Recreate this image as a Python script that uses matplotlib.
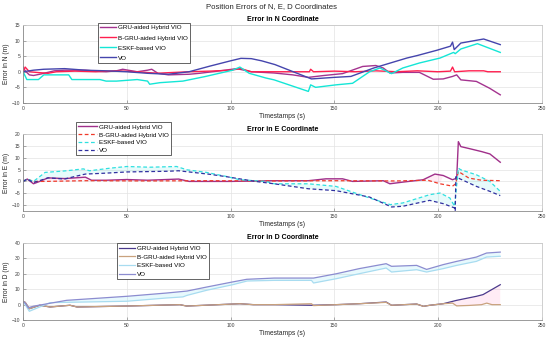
import numpy as np
import matplotlib
matplotlib.use("Agg")
import matplotlib.pyplot as plt

plt.rcParams['font.family'] = ['Liberation Sans', 'DejaVu Sans']

labels = ["GRU-aided Hybrid VIO", "B-GRU-aided Hybrid VIO", "ESKF-based VIO", "VO"]

# ===== N coordinate =====
t_n_gru = [0, 1, 3, 5, 8, 10, 15, 20, 30, 35, 40, 45, 48, 55, 60, 62, 65, 70, 80, 85,
           95, 103, 110, 121, 130, 137.5, 145, 154, 163.7, 170, 173.6, 176.8, 183, 191,
           197.7, 202.5, 207, 209, 211, 218.5, 224.9, 230]
n_gru = [1.5, 0.3, -1.0, -1.2, -0.8, -0.5, 0.3, 0.5, 0.5, 0.2, 0, 0.3, 0.8, 0, 0.5, 0.8,
         -0.5, -1.0, -0.8, -0.5, 0.3, 1.0, 0, -0.4, -1.0, -1.8, -1.2, -0.6, 1.7, 2.0, 1.2,
         -0.4, -0.2, -0.2, -2.4, -2.3, -1.5, -1.0, -2.6, -3.1, -5.3, -7.4]
t_n_bgru = [0, 1, 3, 8, 12, 16, 25, 35, 45, 55, 65, 70, 80, 90, 100, 105, 110, 121, 130,
            138, 138.6, 140, 150, 160, 170, 180, 190, 200, 206, 207, 208, 215, 222, 224, 230]
n_bgru = [0, 1.5, 0, -0.3, -0.5, 0, 0.2, 0, 0.3, 0, -0.5, -0.3, 0, 0.2, 0.5, 1.0, 0, 0, 0,
          0, 0.8, 0, 0.2, 0, 0.3, 0, 0.3, 0, 0.2, 1.5, 0, 0.3, 0.3, 0, 0]
t_n_eskf = [0, 1.8, 7.4, 10, 22, 23.5, 37, 40, 45, 55, 60, 61, 66, 77, 88, 101, 104.5, 109,
            117, 121, 137.5, 138.6, 141, 150.8, 158.8, 167, 172, 177.6, 183, 191, 201,
            207.5, 208.3, 211, 219, 230]
n_eskf = [0, -2.5, -2.5, -1.0, -1.0, -2.5, -2.5, -3.0, -3.0, -2.5, -3.0, -4.0, -3.5, -3.0,
          -1.5, 0.5, 1.5, -0.5, -2.0, -2.6, -6.3, -4.2, -5.0, -4.2, -3.7, 0, 1.2, -0.6, 1.2,
          2.8, 4.4, 6.2, 5.8, 7.3, 9.0, 6.2]
t_n_vo = [0, 5, 10, 20, 30, 40, 50, 60, 70, 80, 90, 100, 105, 110, 115, 121.4, 139, 150,
          158, 169, 177, 185, 190, 199.5, 206, 207, 207.8, 211, 222, 230]
n_vo = [0, 0.5, 0.8, 1.0, 0.5, 0.3, 0, -0.5, -0.8, 0, 1.8, 3.5, 4.3, 4.2, 3.5, 2.3, -2.3,
        -1.8, -1.5, 1.2, 2.8, 4.4, 5.2, 6.9, 8.2, 9.5, 7.1, 9.2, 10.5, 8.7]

# ===== E coordinate =====
t_e_gru = [0, 2, 5, 8, 12, 20, 30, 33, 40, 50, 60, 75, 80, 100, 121, 137.5, 146, 154, 158.8,
           173.6, 176.8, 183, 192.8, 198.5, 202.5, 207, 209, 209.8, 211, 214.9, 221, 225, 230]
e_gru = [0, 1.0, -1.0, 0, 1.5, 1.2, 1.8, 0.5, 0.5, 0.8, 0.5, 1.0, 0, 0, 0.3, 0.3, 1.1, 1.1,
         0, 0.3, -1.0, -0.3, 0.7, 3.1, 2.5, 0.7, 1.4, 16.8, 14.7, 13.9, 12.6, 11.6, 8.1]
t_e_bgru = [0, 2, 5, 10, 30, 60, 90, 121, 150, 180, 195, 201, 207, 208.5, 209.8, 214.9, 221, 230]
e_bgru = [0, 1.0, 0, 0, 0.3, 0.2, 0.3, 0.2, 0.3, 0.2, 0.5, -1.0, -2.0, -1.0, 4.2, 1.4, 0.5, 0.3]
t_e_eskf = [0, 2, 5, 10.6, 21, 29, 32, 42, 50, 61, 74, 79, 88.5, 98, 104.5, 117, 121, 137.5,
            150.8, 167, 177, 183, 196, 201, 205.7, 208, 209.8, 211, 218.5, 225, 230]
e_eskf = [0, 1.0, 0, 3.8, 4.5, 5.3, 4.5, 5.6, 6.3, 6.0, 6.3, 4.9, 3.8, 2.1, 0.7, 0, -1.0,
          -1.0, -2.1, -7.0, -9.8, -9.1, -5.6, -4.9, -7.0, -10.5, 5.6, 4.9, 2.8, 0, -4.2]
t_e_vo = [0, 2, 5, 12, 20, 25, 30, 40, 50, 70, 75, 85, 90, 98, 105, 112, 121, 137.5, 150.8,
          167, 177.6, 183, 196, 202.5, 208, 208.3, 208.6, 209.8, 218.5, 225, 230]
e_vo = [0, 1.0, -0.5, 1.5, 1.0, 2.1, 3.1, 3.5, 4.0, 4.3, 4.5, 3.5, 3.0, 2.0, 1.0, 0, -1.0,
        -3.1, -3.9, -6.6, -10.8, -10.5, -8.0, -9.4, -11.2, -12.5, 2.0, 1.4, -2.1, -4.2, -6.0]

# ===== D coordinate =====
t_d_gru = [0, 1, 3, 8, 13, 22.6, 26, 50, 75.6, 78.8, 104.5, 111, 121, 139, 151, 162, 175,
           177.6, 189.7, 193, 196, 202.5, 209, 218.5, 221.7, 230]
d_gru = [2, 1.5, -2.6, -0.4, -1.5, -0.4, -1.5, -0.9, 0, -0.9, 0.6, 0, 0, -0.4, 0, 0.6, 1.7,
         -0.4, 0.4, -1.1, -0.4, 0.6, 2.8, 5.4, 6.5, 12.9]
t_d_bgru = [0, 1, 3, 8, 13, 22.6, 26, 50, 75.6, 78.8, 104.5, 111, 121, 139, 140, 151, 162,
            175, 177.6, 189.7, 193, 196, 202.5, 207, 209, 215, 221, 223.5, 226, 230]
d_bgru = [2, 1.5, -2.6, -0.4, -1.5, -0.4, -1.5, -0.9, 0, -0.9, 0.6, 0, 0, 0.6, -0.6, 0, 0.6,
          1.5, -0.4, 0.4, -1.1, -0.4, 0.6, 1.0, -0.8, -0.5, 0, 1.0, 0, 0]
t_d_eskf = [0, 1, 3, 13, 50, 69, 77, 79, 88.5, 101, 108, 121, 139, 140, 151, 162, 175, 177.6,
            189.7, 194.5, 202.5, 209, 218.5, 223.4, 230]
d_eskf = [2, 0, -4.3, 1.3, 2.2, 4.3, 5.0, 6.0, 9.3, 12.9, 15.3, 15.7, 15.7, 14.0, 16.8, 20,
          23.7, 21.1, 22.6, 21.1, 23.3, 25.4, 28, 30.8, 31.3]
t_d_vo = [0, 1, 2.5, 5, 21, 50, 69, 79, 88.5, 101, 107.8, 121, 140, 151, 162, 175, 177.6,
          189.7, 194.5, 202.5, 209, 218.5, 223.4, 230]
d_vo = [2, 1, -2, -1, 2.8, 5.4, 7.5, 8.8, 11.4, 14.7, 16.4, 17.2, 17.2, 20, 23.3, 26.5, 24.8,
        25.4, 22.8, 25.9, 28, 30.8, 33.4, 34]


def style_axes(ax, ylim, yticks, title, ylabel):
    ax.set_xlim(0, 250)
    ax.set_ylim(*ylim)
    ax.set_xticks([0, 50, 100, 150, 200, 250])
    ax.set_yticks(yticks)
    ax.grid(True, color="#e3e3e3", linewidth=0.5)
    ax.set_axisbelow(True)
    for s in ax.spines.values():
        s.set_color("#c8c8c8")
        s.set_linewidth(0.6)
    ax.spines["left"].set_color("#8a8a8a")
    ax.spines["bottom"].set_color("#8a8a8a")
    ax.tick_params(direction="in", length=2, width=0.5, colors="#8a8a8a",
                   labelsize=3.6, labelcolor="#404040", pad=2)
    ax.set_title(title, fontsize=5, fontweight="bold", pad=2.5)
    ax.set_xlabel("Timestamps (s)", fontsize=4.8, labelpad=1.5, color="#262626")
    ax.set_ylabel(ylabel, fontsize=4.8, labelpad=1, color="#262626")


def shade(ax, t1, v1, t2, v2, color, tmax=999):
    a = [(t, v) for t, v in zip(t1, v1) if t <= tmax]
    b = [(t, v) for t, v in zip(t2, v2) if t <= tmax]
    pts = a + b[::-1]
    ax.fill([p[0] for p in pts], [p[1] for p in pts], color=color, alpha=0.12, linewidth=0)


def add_legend(ax, fig, anchor, spacing, hlen):
    leg = ax.legend(loc="upper left", bbox_to_anchor=anchor, bbox_transform=fig.transFigure,
                    borderaxespad=0, fontsize=4.5, frameon=True, fancybox=False,
                    handlelength=hlen, handletextpad=0.4, labelspacing=spacing,
                    borderpad=0.35, framealpha=1)
    leg.get_frame().set_edgecolor("#262626")
    leg.get_frame().set_linewidth(0.5)
    leg.set_zorder(10)


fig = plt.figure(figsize=(5.5, 3.42), dpi=100)
ax1 = fig.add_axes([0.042, 0.699, 0.943, 0.228])
ax2 = fig.add_axes([0.042, 0.383, 0.943, 0.225])
ax3 = fig.add_axes([0.042, 0.064, 0.943, 0.226])

fig.text(0.494, 0.982, "Position Errors of N, E, D Coordinates", ha="center", va="center",
         fontsize=5.6, color="#262626")

# N
ax1.plot(t_n_gru, n_gru, color="#a4338f", lw=1.0, label=labels[0])
ax1.plot(t_n_bgru, n_bgru, color="#ff1f4f", lw=1.0, label=labels[1])
ax1.plot(t_n_eskf, n_eskf, color="#14e6d6", lw=1.0, label=labels[2])
ax1.plot(t_n_vo, n_vo, color="#4545ad", lw=1.0, label=labels[3])
style_axes(ax1, (-10, 15), [-10, -5, 0, 5, 10, 15], "Error in N Coordinate", "Error in N (m)")
add_legend(ax1, fig, (0.178, 0.933), 0.75, 2.5)

# E
shade(ax2, t_e_gru, e_gru, t_e_bgru, e_bgru, "#ff69b4", tmax=205)
shade(ax2, t_e_eskf, e_eskf, t_e_vo, e_vo, "#40e0e0")
ax2.plot(t_e_gru, e_gru, color="#a0308a", lw=1.0, label=labels[0])
ax2.plot(t_e_bgru, e_bgru, color="#f03a2a", lw=0.9, ls=(0, (3, 2)), label=labels[1])
ax2.plot(t_e_eskf, e_eskf, color="#30e0e0", lw=0.9, ls=(0, (3, 2)), label=labels[2])
ax2.plot(t_e_vo, e_vo, color="#3030a0", lw=0.9, ls=(0, (3, 2)), label=labels[3])
style_axes(ax2, (-12.5, 20), [-10, -5, 0, 5, 10, 15, 20], "Error in E Coordinate", "Error in E (m)")
add_legend(ax2, fig, (0.138, 0.643), 0.4, 3.0)

# D
shade(ax3, t_d_gru, d_gru, t_d_bgru, d_bgru, "#ff69b4")
shade(ax3, t_d_eskf, d_eskf, t_d_vo, d_vo, "#40d0f0")
ax3.plot(t_d_gru, d_gru, color="#4b3a8c", lw=0.9, label=labels[0])
ax3.plot(t_d_bgru, d_bgru, color="#c9a27e", lw=0.9, label=labels[1])
ax3.plot(t_d_eskf, d_eskf, color="#a8dcf0", lw=0.9, label=labels[2])
ax3.plot(t_d_vo, d_vo, color="#8c8cd0", lw=0.9, label=labels[3])
style_axes(ax3, (-10, 40), [-10, 0, 10, 20, 30, 40], "Error in D Coordinate", "Error in D (m)")
add_legend(ax3, fig, (0.213, 0.289), 0.55, 2.5)

fig.savefig("out.png", dpi=100)
